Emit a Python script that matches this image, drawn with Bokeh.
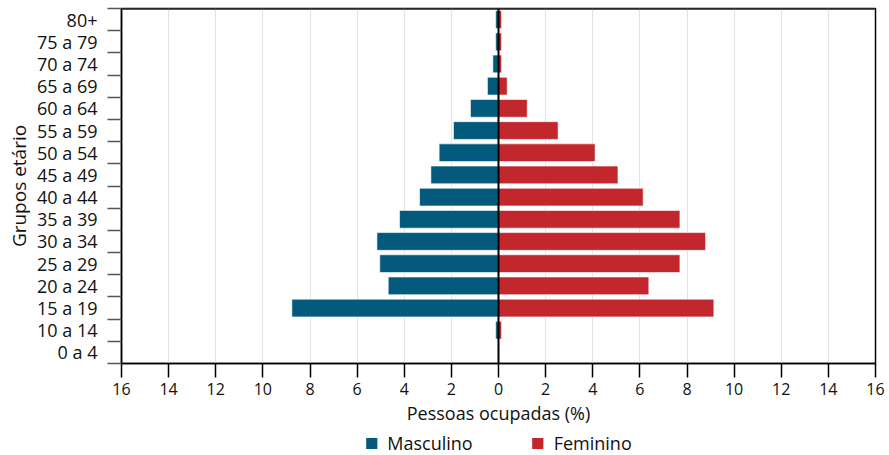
from bokeh.plotting import figure
from bokeh.layouts import column
from bokeh.models import Range1d, FixedTicker, Span, ColumnDataSource
from bokeh.embed import file_html
from bokeh.resources import INLINE

# ---- data ----
groups = ["0 a 4", "10 a 14", "15 a 19", "20 a 24", "25 a 29", "30 a 34", "35 a 39",
          "40 a 44", "45 a 49", "50 a 54", "55 a 59", "60 a 64", "65 a 69", "70 a 74",
          "75 a 79", "80+"]
masculino = [0.0, 0.12, 8.77, 4.68, 5.04, 5.16, 4.20, 3.35, 2.87, 2.52, 1.91, 1.19, 0.47, 0.24, 0.12, 0.12]
feminino = [0.0, 0.13, 9.14, 6.38, 7.70, 8.79, 7.70, 6.14, 5.07, 4.10, 2.53, 1.22, 0.37, 0.13, 0.13, 0.13]
x_ticks = list(range(-16, 17, 2))
series_names = ["Masculino", "Feminino"]

FONT = "Open Sans"
BLUE = "#045a7c"
RED = "#c1272d"

ypos = [i + 0.5 for i in range(len(groups))]
src = ColumnDataSource(dict(
    y=ypos,
    m_left=[-v for v in masculino],
    zero=[0.0] * len(groups),
    f_right=feminino,
))

p = figure(width=889, height=431, output_backend="svg", toolbar_location=None,
           x_range=Range1d(-16, 16), y_range=Range1d(0, len(groups)),
           min_border_left=121, min_border_right=14, min_border_top=8, min_border_bottom=68)

p.hbar(y="y", left="m_left", right="zero", height=0.8, source=src,
       fill_color=BLUE, line_color="white", line_alpha=0.6, line_width=1)
p.hbar(y="y", left="zero", right="f_right", height=0.8, source=src,
       fill_color=RED, line_color="white", line_alpha=0.6, line_width=1)

# outline / frame
p.outline_line_color = "black"
p.outline_line_width = 1.5
p.add_layout(Span(location=len(groups), dimension="width", line_color="#555555", line_width=3))
p.add_layout(Span(location=0, dimension="height", line_color="black", line_width=2))

# grid
p.ygrid.grid_line_color = None
p.xgrid.ticker = FixedTicker(ticks=x_ticks)
p.xgrid.grid_line_color = "#e3e3e3"
p.xgrid.grid_line_width = 1

# x axis
xa = p.xaxis[0]
xa.ticker = FixedTicker(ticks=x_ticks)
xa.major_label_overrides = {t: str(abs(t)) for t in x_ticks}
xa.axis_line_color = "black"
xa.axis_line_width = 1.5
xa.major_tick_line_color = "black"
xa.major_tick_line_width = 1.5
xa.major_tick_out = 14
xa.major_tick_in = 0
xa.minor_tick_line_color = None
xa.major_label_standoff = 5
xa.major_label_text_font = FONT
xa.major_label_text_font_size = "16px"
xa.major_label_text_color = "#111111"
xa.axis_label = "Pessoas ocupadas (%)"
xa.axis_label_text_font = FONT
xa.axis_label_text_font_size = "18px"
xa.axis_label_text_font_style = "normal"
xa.axis_label_text_color = "#111111"
xa.axis_label_standoff = 3

# y axis
ya = p.yaxis[0]
ya.ticker = FixedTicker(ticks=ypos, minor_ticks=list(range(len(groups) + 1)))
ya.major_label_overrides = {y: g for y, g in zip(ypos, groups)}
ya.axis_line_color = "black"
ya.axis_line_width = 1.5
ya.major_tick_line_color = None
ya.major_tick_out = 0
ya.major_tick_in = 0
ya.minor_tick_line_color = "#555555"
ya.minor_tick_line_width = 1.5
ya.minor_tick_out = 14
ya.minor_tick_in = 0
ya.major_label_standoff = 10
ya.major_label_text_font = FONT
ya.major_label_text_font_size = "18px"
ya.major_label_text_color = "#111111"
ya.axis_label = "Grupos etário"
ya.axis_label_text_font = FONT
ya.axis_label_text_font_size = "19px"
ya.axis_label_text_font_style = "normal"
ya.axis_label_text_color = "#111111"
ya.axis_label_standoff = 2

# ---- legend strip (separate small figure; its renderers are hidden) ----
lg = figure(width=889, height=24, output_backend="svg", toolbar_location=None,
            x_range=p.x_range, y_range=Range1d(0, 1),
            min_border_left=121, min_border_right=14, min_border_top=0, min_border_bottom=0)
lg.axis.visible = False
lg.grid.grid_line_color = None
lg.outline_line_color = None
rm = lg.hbar(y="y", left="m_left", right="zero", height=0.8, source=src,
             fill_color=BLUE, line_color=None, legend_label=series_names[0])
rf = lg.hbar(y="y", left="zero", right="f_right", height=0.8, source=src,
             fill_color=RED, line_color=None, legend_label=series_names[1])
rm.visible = False
rf.visible = False
leg = lg.legend[0]
leg.orientation = "horizontal"
leg.location = "center"
leg.glyph_width = 14
leg.glyph_height = 14
leg.label_standoff = 9
leg.spacing = 58
leg.padding = 0
leg.margin = 0
leg.border_line_color = None
leg.background_fill_alpha = 0
leg.inactive_fill_alpha = 0
leg.label_text_font = FONT
leg.label_text_font_size = "18px"
leg.label_text_color = "#111111"
leg.label_height = 18

layout = column(p, lg, spacing=0)
open("out.html", "w").write(file_html(layout, INLINE))
